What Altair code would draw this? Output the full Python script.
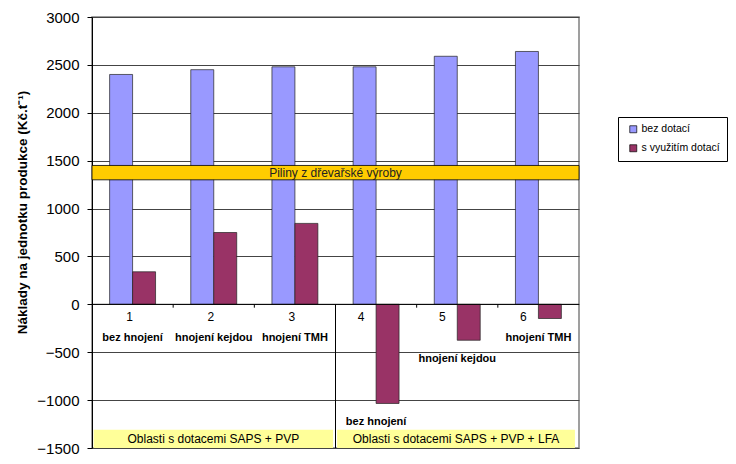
import altair as alt
import pandas as pd

# ---- data ----
cat_idx = [1, 2, 3, 4, 5, 6]
cat_nums = ["1", "2", "3", "4", "5", "6"]
sub_labels = ["bez hnojení", "hnojení kejdou", "hnojení TMH",
              "bez hnojení", "hnojení kejdou", "hnojení TMH"]
group_of = [1, 1, 1, 2, 2, 2]
bez_dotaci = [2400, 2450, 2480, 2480, 2590, 2640]
s_vyuzitim = [340, 750, 845, -1035, -375, -148]
series_names = ["bez dotací", "s využitím dotací"]
series_colors = ["#9999FF", "#993366"]
band_low, band_high = 1300, 1450
band_label = "Piliny z dřevařské výroby"
regions = ["Oblasti s dotacemi SAPS + PVP", "Oblasti s dotacemi SAPS + PVP + LFA"]
region_start = [0.52, 3.52]
region_end = [3.47, 6.45]
region_low, region_high = -1500, -1310
y_ticks = [-1500, -1000, -500, 0, 500, 1000, 1500, 2000, 2500, 3000]

FONT = "Liberation Sans"
BW = 0.283  # bar width in category units

bars_df = pd.DataFrame({
    "idx": cat_idx * 2,
    "series": [series_names[0]] * 6 + [series_names[1]] * 6,
    "value": bez_dotaci + s_vyuzitim,
})
cats_df = pd.DataFrame({"idx": cat_idx, "num": cat_nums, "sub": sub_labels,
                        "group": group_of, "low": s_vyuzitim})
reg_df = pd.DataFrame({"name": regions, "x0": region_start, "x1": region_end,
                       "y0": [region_low] * 2, "y1": [region_high] * 2})
band_df = pd.DataFrame({"label": [band_label], "x0": [0.5], "x1": [6.5],
                        "y0": [band_low], "y1": [band_high]})
rules_df = pd.DataFrame({"x": [1.5, 2.5, 4.5, 5.5, 3.5],
                         "y0": [0, 0, 0, 0, 0],
                         "y1": [-35, -35, -35, -35, -1500]})

xs = alt.Scale(domain=[0.5, 6.5], nice=False, zero=False)
ys = alt.Scale(domain=[-1500, 3000], nice=False)

yaxis = alt.Axis(values=y_ticks, format="d", grid=True, gridColor="#444444", gridWidth=1,
                 domainColor="black", tickColor="black", tickSize=5,
                 labelFontSize=15, labelFont=FONT, labelColor="black", labelPadding=8,
                 title="Náklady na jednotku produkce (Kč.t⁻¹)",
                 titleFont=FONT, titleFontSize=13.5, titleFontWeight="bold",
                 titleColor="black", titleX=-70, titleY=195, titleAngle=-90,
                 titleAlign="center", titleBaseline="middle")

bars = alt.Chart(bars_df).transform_calculate(
    x0="datum.series == 'bez dotací' ? datum.idx - %f : datum.idx" % BW,
    x1="datum.series == 'bez dotací' ? datum.idx : datum.idx + %f" % BW,
    base="0",
).mark_bar(stroke="#222222", strokeWidth=0.7).encode(
    x=alt.X("x0:Q", scale=xs, axis=None),
    x2="x1:Q",
    y=alt.Y("value:Q", scale=ys, axis=yaxis),
    y2="base:Q",
    color=alt.Color("series:N",
                    scale=alt.Scale(domain=series_names, range=series_colors),
                    legend=alt.Legend(title=None, orient="none", legendX=526, legendY=100,
                                      symbolType="square", symbolSize=49,
                                      symbolStrokeColor="black", symbolStrokeWidth=0.7,
                                      symbolOffset=3, labelOffset=3,
                                      labelFont=FONT, labelFontSize=10.5, labelColor="black",
                                      strokeColor="black", fillColor="white",
                                      padding=7, rowPadding=8)),
)

zero_line = alt.Chart(band_df).transform_calculate(z="0").mark_rule(
    color="black", strokeWidth=1).encode(
    x=alt.X("x0:Q", scale=xs, axis=None), x2="x1:Q",
    y=alt.Y("z:Q", scale=ys)
)

rules = alt.Chart(rules_df).mark_rule(color="black").encode(
    x=alt.X("x:Q", scale=xs, axis=None),
    y=alt.Y("y0:Q", scale=ys), y2="y1:Q"
)

band = alt.Chart(band_df).mark_rect(color="#FFCC00", stroke="black", strokeWidth=0.8).encode(
    x=alt.X("x0:Q", scale=xs, axis=None), x2="x1:Q",
    y=alt.Y("y0:Q", scale=ys), y2="y1:Q"
)
band_text = alt.Chart(band_df).transform_calculate(
    xm="(datum.x0 + datum.x1) / 2", ym="(datum.y0 + datum.y1) / 2"
).mark_text(font=FONT, fontSize=12, color="#222222").encode(
    x=alt.X("xm:Q", scale=xs, axis=None), y=alt.Y("ym:Q", scale=ys),
    text="label:N"
)

reg = alt.Chart(reg_df).mark_rect(color="#FFFF99").encode(
    x=alt.X("x0:Q", scale=xs, axis=None), x2="x1:Q",
    y=alt.Y("y0:Q", scale=ys), y2="y1:Q"
)
reg_text = alt.Chart(reg_df).transform_calculate(
    xm="(datum.x0 + datum.x1) / 2", ym="(datum.y0 + datum.y1) / 2"
).mark_text(font=FONT, fontSize=12, color="black").encode(
    x=alt.X("xm:Q", scale=xs, axis=None), y=alt.Y("ym:Q", scale=ys), text="name:N"
)

cats_base = alt.Chart(cats_df).transform_calculate(z="0")
nums1 = cats_base.transform_filter("datum.group == 1").mark_text(
    font=FONT, fontSize=12, color="black", dx=-3, dy=13).encode(
    x=alt.X("idx:Q", scale=xs, axis=None), y=alt.Y("z:Q", scale=ys), text="num:N")
nums2 = cats_base.transform_filter("datum.group == 2").mark_text(
    font=FONT, fontSize=12, color="black", dx=-15, dy=13).encode(
    x=alt.X("idx:Q", scale=xs, axis=None), y=alt.Y("z:Q", scale=ys), text="num:N")
subs1 = cats_base.transform_filter("datum.group == 1").mark_text(
    font=FONT, fontSize=11, fontWeight="bold", color="black", dy=34).encode(
    x=alt.X("idx:Q", scale=xs, axis=None), y=alt.Y("z:Q", scale=ys), text="sub:N")
subs2 = cats_base.transform_filter("datum.group == 2").mark_text(
    font=FONT, fontSize=11, fontWeight="bold", color="black", dy=19).encode(
    x=alt.X("idx:Q", scale=xs, axis=None), y=alt.Y("low:Q", scale=ys), text="sub:N")

chart = alt.layer(
    reg, bars, zero_line, rules, band, band_text, reg_text,
    nums1, nums2, subs1, subs2
).properties(
    width=487, height=431,
    autosize=alt.AutoSizeParams(type="none"),
    padding={"left": 84, "top": 9, "right": 149, "bottom": 8},
    background="white",
).configure_view(stroke="#808080", strokeWidth=1.5)

chart.save("out.html", embed_options={"renderer": "svg", "actions": False})
